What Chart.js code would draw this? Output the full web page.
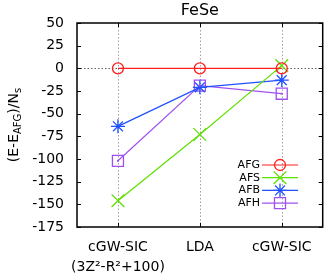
<!DOCTYPE html>
<html><head><meta charset="utf-8">
<script src="https://cdn.jsdelivr.net/npm/chart.js@4"></script>
<style>html,body{margin:0;padding:0;background:#fff}canvas{display:block}</style>
</head><body>
<canvas id="c" width="333" height="275" style="width:333px;height:275px"></canvas>
<script>
const categories = [['cGW-SIC', '(3Z²-R²+100)'], 'LDA', 'cGW-SIC'];
const seriesNames = ['AFG', 'AFS', 'AFB', 'AFH'];
const afg = [0, 0, 0];
const afs = [-146, -73, 3];
const afb = [-64, -21, -13];
const afh = [-102, -19, -28];
const yTicks = [50, 25, 0, -25, -50, -75, -100, -125, -150, -175];
const titleText = 'FeSe';

const colors = ['#ff2020', '#5ee000', '#2050ff', '#a050f0'];
const styles = ['circle', 'crossRot', 'star', 'rect'];
const radii = [5.5, 9, 7, 7.8];
const values = [afg, afs, afb, afh];
const FONT = 'DejaVu Sans';

const datasets = seriesNames.map((n, i) => ({
  label: n,
  data: values[i],
  borderColor: colors[i],
  backgroundColor: 'transparent',
  borderWidth: 1.2,
  pointStyle: styles[i],
  pointRadius: radii[i],
  pointHoverRadius: radii[i],
  pointBorderColor: colors[i],
  pointBackgroundColor: 'transparent',
  pointBorderWidth: 1.3,
  tension: 0,
  clip: false
}));

function drawMarker(ctx, style, r, x, y, color) {
  ctx.save();
  ctx.strokeStyle = color; ctx.lineWidth = 1.3;
  ctx.beginPath();
  const d = Math.SQRT1_2 * r;
  if (style === 'circle') { ctx.arc(x, y, r, 0, Math.PI * 2); }
  else if (style === 'crossRot') { ctx.moveTo(x - d, y - d); ctx.lineTo(x + d, y + d); ctx.moveTo(x - d, y + d); ctx.lineTo(x + d, y - d); }
  else if (style === 'star') { ctx.moveTo(x - d, y - d); ctx.lineTo(x + d, y + d); ctx.moveTo(x - d, y + d); ctx.lineTo(x + d, y - d); ctx.moveTo(x, y - r); ctx.lineTo(x, y + r); ctx.moveTo(x - r, y); ctx.lineTo(x + r, y); }
  else if (style === 'rect') { ctx.rect(x - d, y - d, 2 * d, 2 * d); }
  ctx.stroke();
  ctx.restore();
}

const decor = {
  id: 'decor',
  beforeDatasetsDraw(chart) {
    const ctx = chart.ctx, a = chart.chartArea;
    const xs = chart.scales.x, ys = chart.scales.y;
    ctx.save();
    ctx.strokeStyle = '#a0a0a0'; ctx.lineWidth = 1; ctx.setLineDash([1.5, 2]);
    categories.forEach((c, i) => {
      const x = Math.round(xs.getPixelForValue(i)) + 0.5;
      ctx.beginPath(); ctx.moveTo(x, a.top); ctx.lineTo(x, a.bottom); ctx.stroke();
    });
    const y0 = Math.round(ys.getPixelForValue(0)) + 0.5;
    ctx.strokeStyle = '#606060';
    ctx.beginPath(); ctx.moveTo(a.left, y0); ctx.lineTo(a.right, y0); ctx.stroke();
    ctx.restore();
  },
  afterDatasetsDraw(chart) {
    const ctx = chart.ctx;
    const meta = chart.getDatasetMeta(3);
    ctx.save(); ctx.fillStyle = colors[3];
    meta.data.forEach(p => { ctx.fillRect(p.x - 1, p.y - 1, 2, 2); });
    ctx.restore();
  },
  afterDraw(chart) {
    const ctx = chart.ctx, a = chart.chartArea;
    const xs = chart.scales.x, ys = chart.scales.y;
    ctx.save();
    ctx.strokeStyle = '#000'; ctx.lineWidth = 1.5; ctx.setLineDash([]);
    ctx.strokeRect(a.left, a.top, a.right - a.left, a.bottom - a.top);
    ctx.lineWidth = 1;
    yTicks.forEach(v => {
      const y = Math.round(ys.getPixelForValue(v)) + 0.5;
      ctx.beginPath();
      ctx.moveTo(a.left, y); ctx.lineTo(a.left + 4, y);
      ctx.moveTo(a.right, y); ctx.lineTo(a.right - 4, y);
      ctx.stroke();
    });
    categories.forEach((c, i) => {
      const x = Math.round(xs.getPixelForValue(i)) + 0.5;
      ctx.beginPath();
      ctx.moveTo(x, a.bottom); ctx.lineTo(x, a.bottom - 4);
      ctx.moveTo(x, a.top); ctx.lineTo(x, a.top + 4);
      ctx.stroke();
    });
    ctx.fillStyle = '#000';
    ctx.font = '16px "' + FONT + '"';
    ctx.textAlign = 'center'; ctx.textBaseline = 'middle';
    ctx.fillText(titleText, (a.left + a.right) / 2, 11);
    const parts = [['(E-E', 14, 0], ['AFG', 10, 4], [')/N', 14, 0], ['s', 10, 4]];
    let total = 0;
    parts.forEach(p => { ctx.font = p[1] + 'px "' + FONT + '"'; total += ctx.measureText(p[0]).width; });
    ctx.translate(14, (a.top + a.bottom) / 2);
    ctx.rotate(-Math.PI / 2);
    ctx.textAlign = 'left'; ctx.textBaseline = 'middle';
    let px = -total / 2;
    parts.forEach(p => {
      ctx.font = p[1] + 'px "' + FONT + '"';
      ctx.fillText(p[0], px, p[2]);
      px += ctx.measureText(p[0]).width;
    });
    ctx.restore();
    ctx.save();
    ctx.font = '11px "' + FONT + '"';
    ctx.textAlign = 'right'; ctx.textBaseline = 'middle';
    seriesNames.forEach((n, i) => {
      const y = 165 + i * 12.7;
      ctx.fillStyle = '#000';
      ctx.fillText(n, 260, y);
      ctx.strokeStyle = colors[i]; ctx.lineWidth = 1.2;
      ctx.beginPath(); ctx.moveTo(262, y); ctx.lineTo(298, y); ctx.stroke();
      drawMarker(ctx, styles[i], radii[i], 280, y, colors[i]);
    });
    ctx.restore();
  }
};

new Chart(document.getElementById('c'), {
  type: 'line',
  data: { labels: categories, datasets },
  options: {
    responsive: false,
    animation: false,
    events: [],
    layout: { padding: { top: 23, left: 0, right: 1, bottom: 0 } },
    plugins: { legend: { display: false }, title: { display: false }, tooltip: { enabled: false } },
    scales: {
      x: {
        type: 'category',
        offset: true,
        grid: { display: false },
        border: { display: false },
        ticks: { color: '#000', font: { family: FONT, size: 14, lineHeight: 1.4 }, padding: 3, maxRotation: 0, autoSkip: false },
        afterFit(s) { s.height = 48; }
      },
      y: {
        min: -175, max: 50,
        grid: { display: false },
        border: { display: false },
        afterBuildTicks(s) { s.ticks = yTicks.map(v => ({ value: v })); },
        ticks: { color: '#000', font: { family: FONT, size: 14 }, padding: 5, autoSkip: false },
        afterFit(s) { s.width = 77; }
      }
    }
  },
  plugins: [decor]
});
</script>
</body></html>
